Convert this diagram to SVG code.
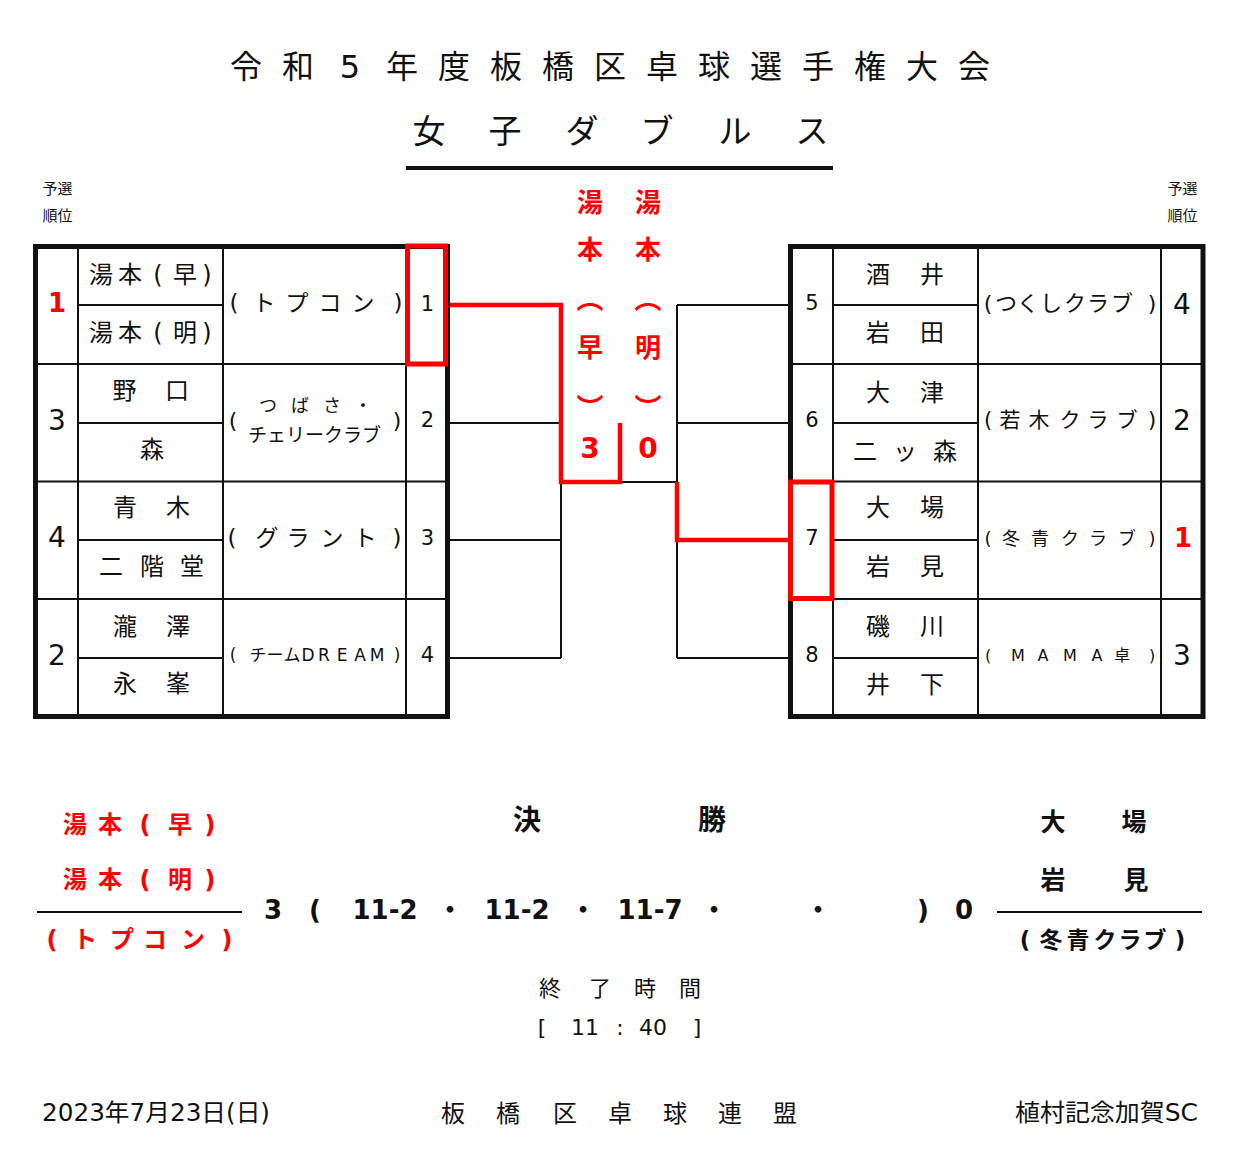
<svg xmlns="http://www.w3.org/2000/svg" width="1241" height="1162" viewBox="0 0 1241 1162">
<style>
text{font-family:"DejaVu Sans","Noto Sans CJK JP",sans-serif;fill:#111;text-anchor:middle;dominant-baseline:central}
.b{font-weight:bold}
.r{fill:#f00}
.st{text-anchor:start}
.nm{font-size:24px}
.sd{font-size:21px}
.rk{font-size:28px}
.thin{stroke:#111;stroke-width:2;fill:none}
.thick{stroke:#111;stroke-width:5;fill:none}
.red{stroke:#f00;stroke-width:4.5;fill:none}
</style>
<rect width="1241" height="1162" fill="#fff"/>

<g id="header">
<text x="246 298 350 402 454 506 558 610 662 714 766 818 870 922 974" y="67" font-size="32">令和5年度板橋区卓球選手権大会</text>
<text x="429 505 582 657 735 812" y="131" font-size="33">女子ダブルス</text>
<line x1="406" y1="168" x2="833" y2="168" stroke="#111" stroke-width="4"/>
<text x="57.5" y="189" font-size="15">予選</text>
<text x="57.5" y="216" font-size="15">順位</text>
<text x="1182.5" y="189" font-size="15">予選</text>
<text x="1182.5" y="216" font-size="15">順位</text>
</g>

<g id="left-table-grid">
<rect x="35.5" y="246.5" width="412" height="470" class="thick"/>
<path class="thin" d="M78 246.5V716.5M223 246.5V716.5M406 246.5V716.5M35.5 364H447.5M35.5 481.5H447.5M35.5 599H447.5M78 305H223M78 423H223M78 540H223M78 658H223"/>
</g>

<g id="right-table-grid">
<rect x="790.5" y="246.5" width="412.5" height="470" class="thick"/>
<path class="thin" d="M833 246.5V716.5M978 246.5V716.5M1161 246.5V716.5M790.5 364H1203M790.5 481.5H1203M790.5 599H1203M833 305H978M833 423H978M833 540H978M833 658H978"/>
</g>

<g id="team-L1">
<text x="57" y="303" class="b r" font-size="26">1</text>
<text x="101 130 158 185 207" y="275" class="nm">湯本(早)</text>
<text x="101 130 158 185 207" y="333" class="nm">湯本(明)</text>
<text x="234 264 297 330 363 398" y="303" font-size="23">(トプコン)</text>
<text x="427.5" y="304" class="sd">1</text>
</g>
<g id="team-L2">
<text x="57" y="420" class="rk">3</text>
<text x="124.5 177" y="391" class="nm">野口</text>
<text x="152" y="450" class="nm">森</text>
<text x="233" y="420" font-size="22">(</text>
<text x="268 300 332 363" y="405" font-size="18">つばさ・</text>
<text x="314.5" y="435" font-size="19">チェリークラブ</text>
<text x="397" y="420" font-size="22">)</text>
<text x="427.5" y="420" class="sd">2</text>
</g>
<g id="team-L3">
<text x="57" y="537" class="rk">4</text>
<text x="125 178" y="508" class="nm">青木</text>
<text x="111 152 192" y="567" class="nm">二階堂</text>
<text x="232 267 298 332 365 397" y="538" font-size="23">(グラント)</text>
<text x="427.5" y="538" class="sd">3</text>
</g>
<g id="team-L4">
<text x="57" y="655" class="rk">2</text>
<text x="125 178" y="627" class="nm">瀧澤</text>
<text x="125 178" y="684" class="nm">永峯</text>
<text x="233 258 275 292 308 324 342 360 377 397" y="655" font-size="17">(チームDREAM)</text>
<text x="427.5" y="655" class="sd">4</text>
</g>

<g id="team-R5">
<text x="812" y="303" class="sd">5</text>
<text x="878 932" y="275" class="nm">酒井</text>
<text x="878 932" y="333" class="nm">岩田</text>
<text x="988 1006 1028 1051 1075 1098 1122 1152" y="303" font-size="22">(つくしクラブ)</text>
<text x="1182" y="304" class="rk">4</text>
</g>
<g id="team-R6">
<text x="812" y="420" class="sd">6</text>
<text x="878 932" y="393" class="nm">大津</text>
<text x="865 905 945" y="452" class="nm">二ッ森</text>
<text x="988 1010 1039 1070 1098 1127 1152" y="420" font-size="21">(若木クラブ)</text>
<text x="1182" y="420" class="rk">2</text>
</g>
<g id="team-R7">
<text x="812" y="538" class="sd">7</text>
<text x="878 932" y="508" class="nm">大場</text>
<text x="878 932" y="567" class="nm">岩見</text>
<text x="988 1011 1040 1070 1098 1127 1152" y="538" font-size="18">(冬青クラブ)</text>
<text x="1183" y="538" class="b r" font-size="26">1</text>
</g>
<g id="team-R8">
<text x="812" y="655" class="sd">8</text>
<text x="878 932" y="627" class="nm">磯川</text>
<text x="878 932" y="685" class="nm">井下</text>
<text x="988 1018 1043 1070 1097 1122 1152" y="655" font-size="16">(MAMA卓)</text>
<text x="1182" y="655" class="rk">3</text>
</g>

<g id="connectors">
<path class="thin" d="M450 423H561M450 540H561M450 658H561M561 482V658M620 482H677M677 305V482M677 540V658M677 305H790M677 423H790M677 658H790"/>
<path class="red" d="M450 305H561V482H620V423"/>
<path class="red" d="M677 482V540H790"/>
<rect x="407.5" y="246" width="38" height="118" fill="none" stroke="#f00" stroke-width="5"/>
<rect x="790.5" y="482" width="41.5" height="116.5" fill="none" stroke="#f00" stroke-width="5"/>
</g>

<g id="winner-labels">
<text x="590" y="203" class="b r" font-size="26">湯</text>
<text x="590" y="250" class="b r" font-size="26">本</text>
<text x="590" y="299" class="b r" font-size="27">︵</text>
<text x="590" y="348" class="b r" font-size="26">早</text>
<text x="590" y="408" class="b r" font-size="27">︶</text>
<text x="590" y="448" class="b r" font-size="28">3</text>
<text x="648" y="203" class="b r" font-size="26">湯</text>
<text x="648" y="250" class="b r" font-size="26">本</text>
<text x="648" y="299" class="b r" font-size="27">︵</text>
<text x="648" y="348" class="b r" font-size="26">明</text>
<text x="648" y="408" class="b r" font-size="27">︶</text>
<text x="648" y="448" class="b r" font-size="28">0</text>
</g>

<g id="final-left">
<text x="75 110 145 180 210" y="825" class="b r" font-size="24">湯本(早)</text>
<text x="75 110 145 180 210" y="880" class="b r" font-size="24">湯本(明)</text>
<line x1="37" y1="912" x2="242" y2="912" stroke="#111" stroke-width="2"/>
<text x="52 85 122 155 193 227" y="940" class="b r" font-size="24">(トプコン)</text>
</g>

<g id="final-score">
<text x="527" y="820" class="b" font-size="28">決</text>
<text x="712" y="820" class="b" font-size="28">勝</text>
<text x="273" y="910" class="b" font-size="26">3</text>
<text x="315" y="910" class="b" font-size="26">(</text>
<text x="385" y="910" class="b" font-size="26">11-2</text>
<text x="450" y="910" class="b" font-size="26">・</text>
<text x="517" y="910" class="b" font-size="26">11-2</text>
<text x="583" y="910" class="b" font-size="26">・</text>
<text x="650" y="910" class="b" font-size="26">11-7</text>
<text x="714" y="910" class="b" font-size="26">・</text>
<text x="818" y="910" class="b" font-size="26">・</text>
<text x="923" y="910" class="b" font-size="26">)</text>
<text x="964" y="910" class="b" font-size="26">0</text>
</g>

<g id="final-right">
<text x="1053 1134" y="822" class="b" font-size="25">大場</text>
<text x="1053 1136" y="880" class="b" font-size="25">岩見</text>
<line x1="997" y1="912" x2="1202" y2="912" stroke="#111" stroke-width="2"/>
<text x="1025 1051 1078 1105 1130 1155 1180" y="940" class="b" font-size="23">(冬青クラブ)</text>
</g>

<g id="end-time">
<text x="550 600 645 690" y="988" font-size="22">終了時間</text>
<text x="542" y="1027" font-size="22">[</text>
<text x="585" y="1027" font-size="22">11</text>
<text x="620" y="1027" font-size="22">:</text>
<text x="653" y="1027" font-size="22">40</text>
<text x="697" y="1027" font-size="22">]</text>
</g>

<g id="footer">
<text x="42" y="1113" class="st" font-size="24" textLength="228" lengthAdjust="spacingAndGlyphs">2023年7月23日(日)</text>
<text x="453 508 565 620 675 730 785" y="1114" font-size="24">板橋区卓球連盟</text>
<text x="1015" y="1113" class="st" font-size="24" textLength="183" lengthAdjust="spacingAndGlyphs">植村記念加賀SC</text>
</g>
</svg>
